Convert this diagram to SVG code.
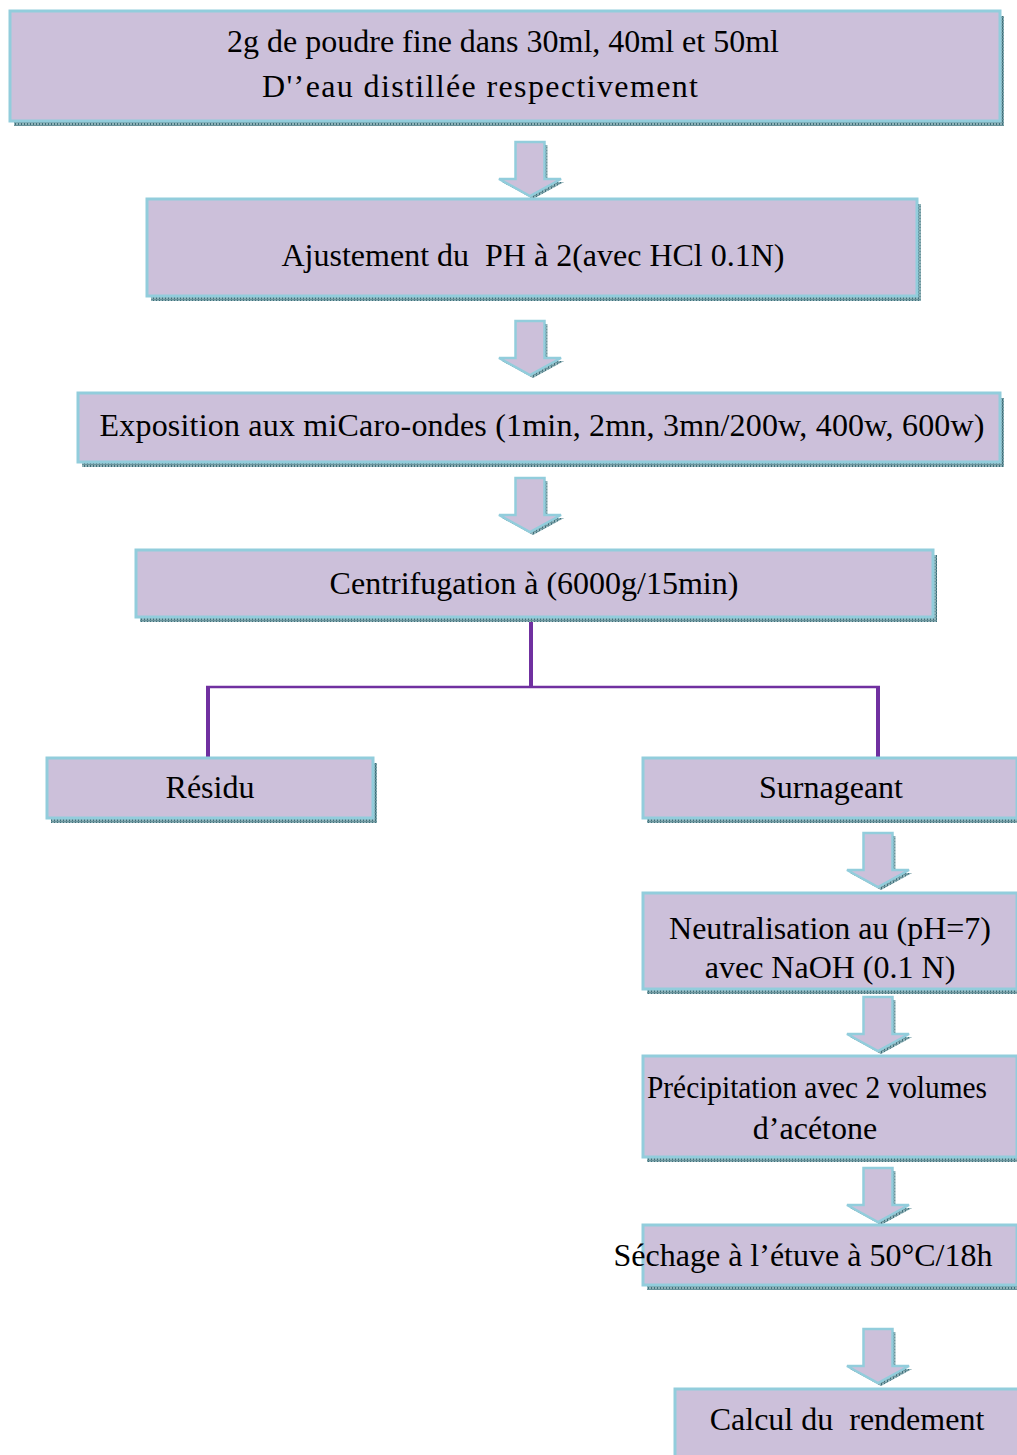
<svg xmlns="http://www.w3.org/2000/svg" xmlns:xlink="http://www.w3.org/1999/xlink" width="1017" height="1455" viewBox="0 0 1017 1455">
<defs>
<pattern id="grid" width="3" height="3" patternUnits="userSpaceOnUse">
<rect width="3" height="3" fill="#8fb2b8"/>
<rect width="1" height="3" fill="#3f6f7a"/>
<rect width="3" height="1" y="2" fill="#6a939b"/>
</pattern>
<polygon id="arr" points="-14.5,0 14.5,0 14.5,37 31,37 0,54 -31,37 -14.5,37"/>
</defs>
<style>
.sh{fill:url(#grid)}
.bx{fill:#ccc0da;stroke:#92cddc;stroke-width:3}
.ar{fill:#ccc0da;stroke:#92cddc;stroke-width:2.5;stroke-linejoin:miter}
.t{font-family:"Liberation Serif","Times New Roman",serif;font-size:32px;text-anchor:middle;fill:#000;white-space:pre}
.cn{stroke:#7030a0;fill:none}
</style>
<rect width="1017" height="1455" fill="#ffffff"/>

<g id="connectors">
<path class="cn" stroke-width="4" d="M531 617V688"/>
<path class="cn" stroke-width="2.5" d="M206 687H880"/>
<path class="cn" stroke-width="4" d="M208 686V758M878 686V758"/>
</g>

<g id="arrows">
<use href="#arr" x="533" y="145" class="sh"/><use href="#arr" x="530" y="142" class="ar"/>
<use href="#arr" x="533" y="324" class="sh"/><use href="#arr" x="530" y="321" class="ar"/>
<use href="#arr" x="533" y="481" class="sh"/><use href="#arr" x="530" y="478" class="ar"/>
<use href="#arr" x="881" y="836" class="sh"/><use href="#arr" x="878" y="833" class="ar"/>
<use href="#arr" x="881" y="1000" class="sh"/><use href="#arr" x="878" y="997" class="ar"/>
<use href="#arr" x="881" y="1171" class="sh"/><use href="#arr" x="878" y="1168" class="ar"/>
<use href="#arr" x="881" y="1332" class="sh"/><use href="#arr" x="878" y="1329" class="ar"/>
</g>

<g id="n1">
<rect class="sh" x="14" y="16" width="990" height="110"/>
<rect class="bx" x="10" y="11" width="990" height="110"/>
<text class="t" x="503" y="52">2g de poudre fine dans 30ml, 40ml et 50ml</text>
<text class="t" x="480" y="97" textLength="436" lengthAdjust="spacing">D'’eau distillée respectivement</text>
</g>

<g id="n2">
<rect class="sh" x="151" y="204" width="770" height="97"/>
<rect class="bx" x="147" y="199" width="770" height="97"/>
<text class="t" x="533" y="266">Ajustement du  PH à 2(avec HCl 0.1N)</text>
</g>

<g id="n3">
<rect class="sh" x="82" y="398" width="922" height="69"/>
<rect class="bx" x="78" y="393" width="922" height="69"/>
<text class="t" x="542" y="436" textLength="885" lengthAdjust="spacing">Exposition aux miCaro-ondes (1min, 2mn, 3mn/200w, 400w, 600w)</text>
</g>

<g id="n4">
<rect class="sh" x="140" y="555" width="797" height="67"/>
<rect class="bx" x="136" y="550" width="797" height="67"/>
<text class="t" x="534" y="594">Centrifugation à (6000g/15min)</text>
</g>

<g id="n5">
<rect class="sh" x="51" y="763" width="326" height="60"/>
<rect class="bx" x="47" y="758" width="326" height="60"/>
<text class="t" x="210" y="798">Résidu</text>
</g>

<g id="n6">
<rect class="sh" x="647" y="763" width="374" height="60"/>
<rect class="bx" x="643" y="758" width="374" height="60"/>
<text class="t" x="831" y="798">Surnageant</text>
</g>

<g id="n7">
<rect class="sh" x="647" y="898" width="374" height="96"/>
<rect class="bx" x="643" y="893" width="374" height="96"/>
<text class="t" x="830" y="939">Neutralisation au (pH=7)</text>
<text class="t" x="830" y="978">avec NaOH (0.1 N)</text>
</g>

<g id="n8">
<rect class="sh" x="647" y="1061" width="374" height="101"/>
<rect class="bx" x="643" y="1056" width="374" height="101"/>
<text class="t" x="817" y="1098" textLength="340" lengthAdjust="spacingAndGlyphs">Précipitation avec 2 volumes</text>
<text class="t" x="815" y="1139">d’acétone</text>
</g>

<g id="n9">
<rect class="sh" x="647" y="1230" width="374" height="60"/>
<rect class="bx" x="643" y="1225" width="374" height="60"/>
<text class="t" x="803" y="1266">Séchage à l’étuve à 50°C/18h</text>
</g>

<g id="n10">
<rect class="sh" x="679" y="1394" width="345" height="70"/>
<rect class="bx" x="675" y="1389" width="345" height="70"/>
<text class="t" x="847" y="1430">Calcul du  rendement</text>
</g>
</svg>
